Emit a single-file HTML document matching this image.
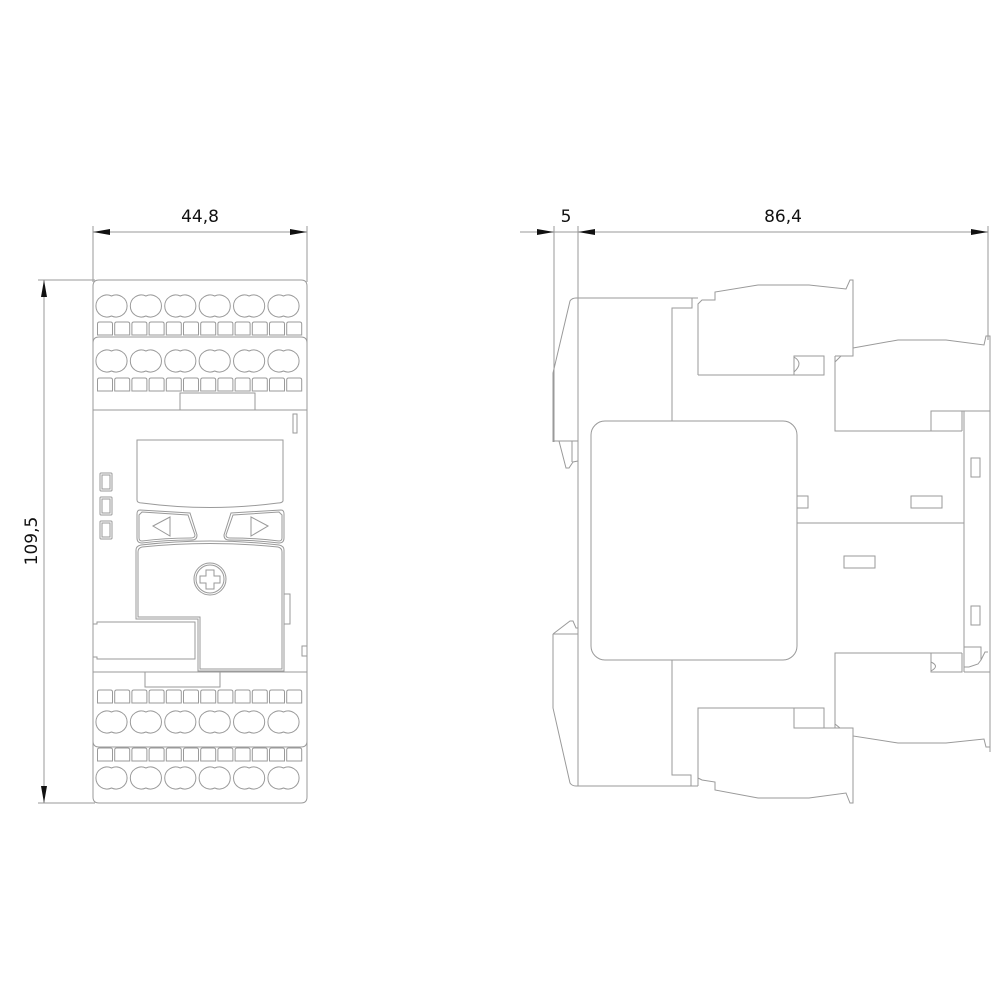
<!DOCTYPE html>
<html><head><meta charset="utf-8"><style>
html,body{margin:0;padding:0;background:#fff;}
svg{display:block;}
text{font-family:"DejaVu Sans","Liberation Sans",sans-serif;font-size:17px;fill:#111;}
</style></head><body>
<svg id="s" width="1000" height="1000" viewBox="0 0 1000 1000" xmlns="http://www.w3.org/2000/svg">
<g fill="none" stroke="#9a9a9a" stroke-width="1">
<line x1="93" y1="226" x2="93" y2="282"/><line x1="307" y1="226" x2="307" y2="282"/>
<line x1="93" y1="232" x2="307" y2="232"/>
<line x1="38" y1="280" x2="95" y2="280"/><line x1="38" y1="803" x2="95" y2="803"/>
<line x1="44" y1="280" x2="44" y2="803"/>
<line x1="554" y1="226" x2="554" y2="442"/><line x1="578" y1="226" x2="578" y2="300"/>
<line x1="988" y1="226" x2="988" y2="340"/>
<line x1="520" y1="232" x2="988" y2="232"/>
<path d="M93,286 Q93,280 99,280 L301,280 Q307,280 307,286 L307,797 Q307,803 301,803 L99,803 Q93,803 93,797 Z"/>
<path d="M93,343 Q93,337 99,337 L301,337 Q307,337 307,343"/>
<line x1="93" y1="410" x2="307" y2="410"/>
<rect x="180" y="393" width="75" height="17"/>
<rect x="293" y="414" width="4" height="19"/>
<path d="M137,440 L283,440 L283,501 Q282,503 278,503 Q210,512 142,503 Q137,503 137,500 Z"/>
<rect x="100" y="473" width="12" height="18" rx="1"/><rect x="102" y="475" width="8" height="14"/>
<rect x="100" y="497" width="12" height="18" rx="1"/><rect x="102" y="499" width="8" height="14"/>
<rect x="100" y="521" width="12" height="18" rx="1"/><rect x="102" y="523" width="8" height="14"/>
<path d="M140,510 L190,513 L197,535 Q197,540 192,540 Q165,540 142,543 Q137,543 137,538 L137,514 Q137,510 140,510 Z"/>
<path d="M142,512 L188,515 L195,535 Q195,538 191,538 Q165,538 142,541 Q139,541 139,538 L139,515 Z"/>
<polygon points="153,526 170,517 170,536"/>
<path d="M281,510 L231,513 L224,535 Q224,540 229,540 Q256,540 279,543 Q284,543 284,538 L284,514 Q284,510 281,510 Z"/>
<path d="M279,512 L233,515 L226,535 Q226,538 230,538 Q256,538 279,541 Q282,541 282,538 L282,515 Z"/>
<polygon points="268,526 251,517 251,536"/>
<path d="M136,619 L136,550 Q136,546 141,545 Q210,537 279,545 Q284,546 284,550 L284,671 L198,671 L198,619 Z"/>
<path d="M138,617 L138,552 Q138,548 142,547 Q210,540 278,547 Q282,548 282,552 L282,669 L200,669 L200,617 Z"/>
<circle cx="210" cy="579" r="16"/><circle cx="210" cy="579" r="14"/>
<path d="M206,570 L214,570 L214,576 L220,576 L220,583 L214,583 L214,589 L206,589 L206,583 L200,583 L200,576 L206,576 Z"/>
<rect x="284" y="594" width="6" height="30"/>
<path d="M93,624 L97,624 L97,622 L195,622 L195,659 L97,659 L97,657 L93,657"/>
<rect x="302" y="646" width="5" height="10"/>
<line x1="93" y1="672" x2="307" y2="672"/>
<rect x="145" y="672" width="75" height="15"/>
<path d="M93,741 Q93,747 99,747 L301,747 Q307,747 307,741"/>
<path d="M553,442 L553,373 L570,301 Q572,298 576,298 L698,298"/>
<line x1="578" y1="298" x2="578" y2="786"/>
<path d="M553,441 L578,441 M559,441 L566,468 L569,468 L573,462 L578,461 M572,441 L572,462"/>
<path d="M692,298 L692,308 L672,308 L672,421"/>
<path d="M698,375 L698,304 L702,300 L715,300 L715,292 L758,285 L809,285 L846,289 L850,280 L853,280 L853,356 L835,356"/>
<path d="M698,375 L824,375 L824,356 L794,356 L794,375 M794,357 Q804,363 794,372 M835,356 L835,431 L962,431 M835,362 L841,356"/>
<path d="M853,348 L898,340 L946,340 L984,345 L986,336 L990,336 L990,752"/>
<path d="M931,431 L931,411 L990,411 M962,411 L962,431 M964,411 L964,672"/>
<rect x="591" y="421" width="206" height="239" rx="14"/>
<rect x="797" y="496" width="11" height="12"/>
<rect x="911" y="496" width="31" height="12"/>
<rect x="971" y="458" width="9" height="19"/>
<line x1="797" y1="523" x2="964" y2="523"/>
<rect x="844" y="556" width="31" height="12"/>
<rect x="971" y="606" width="9" height="19"/>
<path d="M835,728 L835,653 L962,653 M931,653 L931,672 L962,672 L962,653 M931,662 Q940,666 931,671 M964,672 L990,672 M964,647 L981,647 L981,660 L978,664 L969,667 L964,667 M981,660 L985,652 L988,652"/>
<path d="M835,728 L853,728 L853,736 L898,743 L946,743 L984,739 L986,747 L990,747"/>
<path d="M835,724 L840,728"/>
<path d="M698,786 L698,708 L824,708 L824,728 L794,728 L794,708 M794,728 L853,728 L853,803 L850,803 L846,793 L809,798 L758,798 L715,790 L715,782 L702,780 L698,778"/>
<path d="M553,634 L578,634 M553,634 L570,621 L573,621 L576,628 L578,628"/>
<path d="M553,634 L553,708 L570,783 Q572,786 576,786 L698,786"/>
<path d="M672,660 L672,775 L691,775 L691,786"/>
</g>
<g fill="#111" stroke="none">
<polygon points="93,232 110,229 110,235"/><polygon points="307,232 290,229 290,235"/>
<polygon points="44,280 41,297 47,297"/><polygon points="44,803 41,786 47,786"/>
<polygon points="554,232 537,229 537,235"/><polygon points="578,232 595,229 595,235"/>
<polygon points="988,232 971,229 971,235"/>
</g>
<text x="200" y="222" text-anchor="middle">44,8</text>
<text x="566" y="222" text-anchor="middle">5</text>
<text x="783" y="222" text-anchor="middle">86,4</text>
<text x="0" y="0" text-anchor="middle" transform="translate(37,541) rotate(-90)">109,5</text>
<g id="term" fill="none" stroke="#9a9a9a" stroke-width="1"></g>
</svg>
<script>
var g=document.getElementById('term'),h='';
function pairs(cy){for(var i=0;i<6;i++){var x=97+i*34.4,m=x+14.5,hh=10;
h+='<path d="M'+m+','+(cy-hh)+' A11,11 0 1 0 '+m+','+(cy+hh)+' A11,11 0 1 0 '+m+','+(cy-hh)+' Z"/>';}}
function sq(y){for(var j=0;j<12;j++){var x=97.5+j*17.2;
h+='<path d="M'+x+','+(y+13)+' L'+x+','+(y+2)+' Q'+x+','+y+' '+(x+2)+','+y+' L'+(x+13)+','+y+' Q'+(x+15)+','+y+' '+(x+15)+','+(y+2)+' L'+(x+15)+','+(y+13)+' Z"/>';}}
pairs(306);sq(322);pairs(361);sq(378);sq(690);pairs(722);sq(748);pairs(778);
g.innerHTML=h;
</script>
</body></html>
